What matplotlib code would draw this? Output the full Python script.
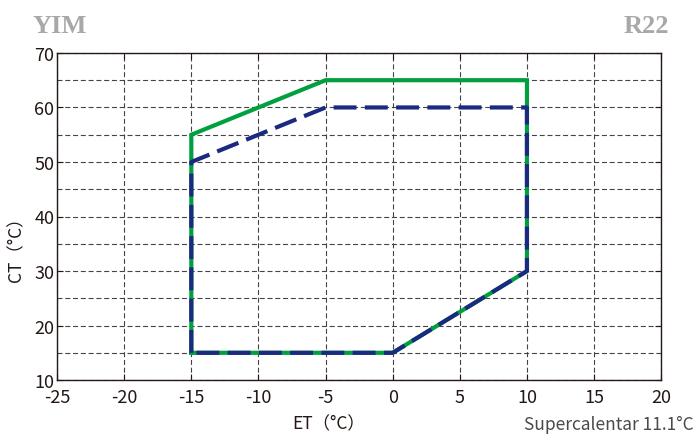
import matplotlib
matplotlib.use("Agg")
from matplotlib import pyplot as plt

plt.rcParams['font.family'] = ['Noto Sans CJK JP', 'DejaVu Sans']
plt.rcParams['axes.unicode_minus'] = False

# envelope 1 (green, solid)
et_green = [-15, -15, -5, 10, 10, 0, -15]
ct_green = [15, 55, 65, 65, 30, 15, 15]
# envelope 2 (navy, dashed)
et_blue = [-15, -15, -5, 10, 10, 0, -15]
ct_blue = [15, 50, 60, 60, 30, 15, 15]

xticks = [-25, -20, -15, -10, -5, 0, 5, 10, 15, 20]
yticks = [10, 20, 30, 40, 50, 60, 70]

fig = plt.figure(figsize=(6.96, 4.35), dpi=100)
ax = fig.add_axes([0.082, 0.124, 0.868, 0.752])

ax.plot(et_green, ct_green, color='#00a040', lw=3.0, solid_joinstyle='miter')
ax.plot(et_blue, ct_blue, color='#1b2a80', lw=3.0, ls=(0, (5.5, 2)), dash_capstyle='butt')

ax.set_xlim(-25, 20)
ax.set_ylim(10, 70)
ax.set_xticks(xticks)
ax.set_yticks(yticks)
ax.set_xticks(range(-25, 21, 5), minor=True)
ax.set_yticks(range(10, 71, 5), minor=True)
ax.grid(True, which='both', color='#444444', ls=(0, (4.5, 2.5)), lw=0.8)
ax.set_axisbelow(True)
ax.tick_params(which='both', direction='in', length=4, top=True, right=True, labelsize=13, colors='#231815')
ax.tick_params(axis='y', pad=2)
ax.tick_params(axis='x', pad=6)
ax.tick_params(which='minor', length=0)
for s in ax.spines.values():
    s.set_color('#231815')
    s.set_linewidth(1.0)

# labels sit a bit off-centre in the original
ax.set_xlabel('ET（°C）', fontsize=12.5, color='#231815', va='center', ha='center')
ax.xaxis.set_label_coords(0.45, -0.131)
ax.set_ylabel('CT（°C）', fontsize=12.5, color='#231815', va='center', ha='center')
ax.yaxis.set_label_coords(-0.068, 0.416)

fig.text(0.047, 0.94, 'YIM', fontsize=19, fontweight='bold', family='Liberation Serif', color='#a8a8a8', ha='left', va='center')
fig.text(0.962, 0.94, 'R22', fontsize=19, fontweight='bold', family='Liberation Serif', color='#a8a8a8', ha='right', va='center')
fig.text(0.996, 0.022, 'Supercalentar 11.1°C', fontsize=12.5, color='#4a4a4a', ha='right', va='center')

fig.savefig('out.png', dpi=100)
